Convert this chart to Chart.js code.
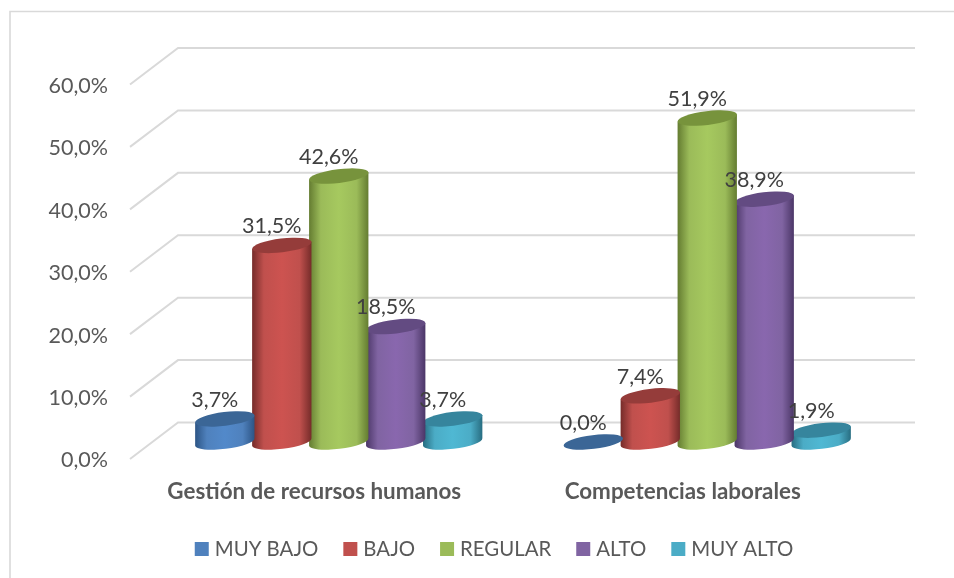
<!DOCTYPE html>
<html>
<head>
<meta charset="utf-8">
<script src="https://cdn.jsdelivr.net/npm/chart.js@4/dist/chart.umd.min.js"></script>
<style>
  html, body { margin: 0; background: #fff; }
  #wrap { width: 954px; height: 578px; }
</style>
</head>
<body>
<div id="wrap"><canvas id="chart" width="954" height="578"></canvas></div>
<script>
const categories = ['Gestión de recursos humanos', 'Competencias laborales'];
const seriesNames = ['MUY BAJO', 'BAJO', 'REGULAR', 'ALTO', 'MUY ALTO'];
const muyBajo = [3.7, 0.0];
const bajo = [31.5, 7.4];
const regular = [42.6, 51.9];
const alto = [18.5, 38.9];
const muyAlto = [3.7, 1.9];
const seriesValues = [muyBajo, bajo, regular, alto, muyAlto];

// swatch colour, then shades for the cylinder: edge, middle, lid
const seriesColors = ['#4f81bd', '#c0504d', '#9bbb59', '#8064a2', '#4bacc6'];
const edgeColors = ['#2c5484', '#742b29', '#637b30', '#4a3566', '#276c80'];
const midColors = ['#5289ca', '#cd5350', '#a6c95f', '#8967ae', '#4fb8d3'];
const lidColors = ['#3b6696', '#953c3a', '#77933c', '#634b82', '#36859d'];

const TEXT = '#595959';
const GRID = '#d9d9d9';
const FONT = 'Lato, Carlito, sans-serif';

// the y scale sits a little under the drawn front plane so the tick text lines up
const FRONT_Y = -1.5;
// depth of the 3D box: the walls sit this far behind the front plane
const DEPTH_X = 48, DEPTH_Y = -38;
// the cylinders stand halfway in
const BAR_DX = 24.5, BAR_DY = -18.5;

const fmt = v => v.toFixed(1).replace('.', ',') + '%';

const frame = {
    id: 'frame',
    beforeDraw(chart) {
        const ctx = chart.ctx;
        ctx.save();
        ctx.strokeStyle = '#d9d9d9';
        ctx.lineWidth = 1.6;
        ctx.beginPath();
        ctx.moveTo(10, 578);
        ctx.lineTo(10, 11.5);
        ctx.lineTo(954, 11.5);
        ctx.stroke();
        ctx.restore();
    }
};

// grid lines go up the side wall and then along the back wall
const wallGrid = {
    id: 'wallGrid',
    beforeDatasetsDraw(chart) {
        const { ctx, chartArea, scales: { y } } = chart;
        ctx.save();
        ctx.strokeStyle = GRID;
        ctx.lineWidth = 2;
        y.ticks.forEach(t => {
            const py = y.getPixelForValue(t.value);
            ctx.beginPath();
            ctx.moveTo(chartArea.left, py + FRONT_Y);
            ctx.lineTo(chartArea.left + DEPTH_X, py + DEPTH_Y);
            ctx.lineTo(chartArea.right + DEPTH_X, py + DEPTH_Y);
            ctx.stroke();
        });
        ctx.restore();
    }
};

function drawCylinder(ctx, bar, i) {
    const cx = bar.x + BAR_DX;
    const topY = bar.y + BAR_DY;
    const baseY = bar.base + BAR_DY;
    const a = bar.width / 2 + 1.4, b = 6.9, rot = -7 * Math.PI / 180;
    const ex = a * Math.cos(rot), ey = a * Math.sin(rot);

    if (baseY - topY > 0.5) {
        const g = ctx.createLinearGradient(cx - a, 0, cx + a, 0);
        g.addColorStop(0, edgeColors[i]);
        g.addColorStop(0.2, seriesColors[i]);
        g.addColorStop(0.5, midColors[i]);
        g.addColorStop(0.8, seriesColors[i]);
        g.addColorStop(1, edgeColors[i]);
        ctx.fillStyle = g;
        ctx.beginPath();
        ctx.ellipse(cx, baseY, a, b, rot, 0, Math.PI);
        ctx.lineTo(cx - ex, topY - ey);
        ctx.lineTo(cx + ex, topY + ey);
        ctx.closePath();
        ctx.fill();
    }
    ctx.fillStyle = lidColors[i];
    ctx.beginPath();
    ctx.ellipse(cx, topY, a, b, rot, 0, Math.PI * 2);
    ctx.fill();
}

const cylinders = {
    id: 'cylinders',
    // replaces the flat bar of each dataset, later series overlap earlier ones
    beforeDatasetDraw(chart, args) {
        const meta = chart.getDatasetMeta(args.index);
        meta.data.forEach(bar => drawCylinder(chart.ctx, bar, args.index));
        return false;
    }
};

const valueLabels = {
    id: 'valueLabels',
    afterDatasetsDraw(chart) {
        const ctx = chart.ctx;
        ctx.save();
        ctx.fillStyle = '#404040';
        ctx.font = '21.5px ' + FONT;
        ctx.textAlign = 'center';
        ctx.textBaseline = 'middle';
        chart.data.datasets.forEach((ds, i) => {
            chart.getDatasetMeta(i).data.forEach((bar, j) => {
                ctx.fillText(fmt(ds.data[j]), bar.x + 14.5, bar.y - 37.5);
            });
        });
        ctx.restore();
    }
};

// legend row, drawn here because the swatch to text gap is tighter than the built in one
const legendRow = {
    id: 'legendRow',
    afterDraw(chart) {
        const ctx = chart.ctx;
        const box = 14, gap = 6, between = 25, midY = 549;
        ctx.save();
        ctx.font = '20.4px ' + FONT;
        ctx.textBaseline = 'middle';
        const widths = seriesNames.map(n => ctx.measureText(n).width);
        const total = widths.reduce((s, w) => s + box + gap + w, 0) + between * (seriesNames.length - 1);
        let x = 494 - total / 2;
        seriesNames.forEach((n, i) => {
            ctx.fillStyle = seriesColors[i];
            ctx.fillRect(x, midY - box / 2, box, box);
            ctx.fillStyle = TEXT;
            ctx.fillText(n, x + box + gap, midY);
            x += box + gap + widths[i] + between;
        });
        ctx.restore();
    }
};

new Chart(document.getElementById('chart'), {
    type: 'bar',
    data: {
        labels: categories,
        datasets: seriesNames.map((name, i) => ({
            label: name,
            data: seriesValues[i],
            backgroundColor: seriesColors[i],
            categoryPercentage: 0.773,
            barPercentage: 1
        }))
    },
    options: {
        responsive: false,
        animation: false,
        layout: { padding: { left: 0, right: 87, top: 86, bottom: 0 } },
        plugins: { legend: { display: false }, tooltip: { enabled: false } },
        scales: {
            x: {
                grid: { display: false },
                border: { display: false },
                afterFit: s => { s.height = 117.5; },
                ticks: {
                    color: TEXT,
                    padding: 9.5,
                    maxRotation: 0,
                    font: { family: FONT, size: 22.4, weight: 'bold' }
                }
            },
            y: {
                min: 0,
                max: 60,
                grid: { display: false },
                border: { display: false },
                afterFit: s => { s.width = 130; },
                ticks: {
                    stepSize: 10,
                    color: TEXT,
                    padding: 14,
                    font: { family: FONT, size: 21.5 },
                    callback: v => fmt(v)
                }
            }
        }
    },
    plugins: [frame, wallGrid, cylinders, valueLabels, legendRow]
});
</script>
</body>
</html>
